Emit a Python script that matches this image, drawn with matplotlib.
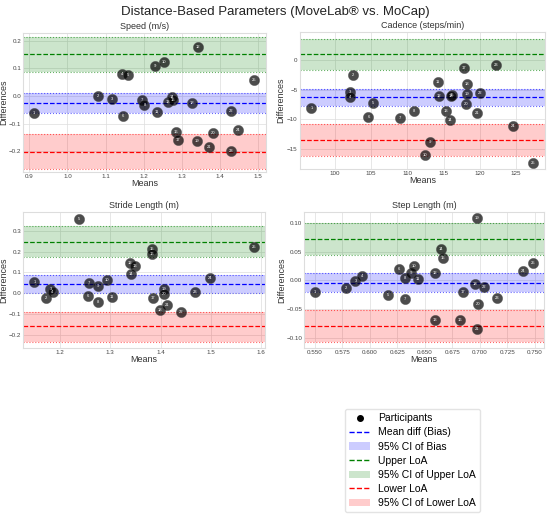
import matplotlib
matplotlib.use('Agg')
import matplotlib.pyplot as plt
from matplotlib.lines import Line2D
from matplotlib.patches import Patch

plt.rcParams['font.family'] = ['Liberation Sans', 'DejaVu Sans']

# ---- data (means, differences) ----
speed_means = [0.913, 1.080, 1.117, 1.143, 1.159, 1.146, 1.195, 1.202, 1.229, 1.253,
               1.234, 1.343, 1.264, 1.273, 1.277, 1.284, 1.291, 1.327, 1.339, 1.381,
               1.372, 1.428, 1.430, 1.448, 1.490]
speed_diffs = [-0.062, 0.001, -0.011, 0.079, 0.075, -0.073, -0.014, -0.034, 0.110, 0.123,
               -0.056, 0.176, -0.021, -0.002, -0.016, -0.128, -0.159, -0.024, -0.163, -0.133,
               -0.185, -0.053, -0.197, -0.123, 0.059]
speed_stats = dict(bias=-0.024, bias_ci=(-0.062, 0.012), upper=0.151, upper_ci=(0.087, 0.213),
                   lower=-0.201, lower_ci=(-0.264, -0.136))

cad_means = [96.78, 102.49, 102.12, 102.12, 105.34, 104.65, 109.02, 110.87, 113.12, 112.43,
             114.27, 114.32, 115.33, 115.93, 116.16, 116.0, 117.82, 118.28, 118.23, 118.05,
             119.57, 120.03, 122.19, 124.59, 127.35]
cad_diffs = [-8.10, -2.49, -5.32, -6.17, -7.25, -9.68, -9.85, -8.61, -13.93, -16.14,
             -3.57, -5.95, -8.55, -10.14, -5.83, -5.95, -1.25, -3.96, -5.61, -7.36,
             -8.89, -5.44, -0.79, -11.10, -17.44]
cad_stats = dict(bias=-6.23, bias_ci=(-7.81, -4.76), upper=1.08, upper_ci=(-1.64, 3.68),
                 lower=-13.53, lower_ci=(-16.2, -10.87))

stride_means = [1.149, 1.172, 1.181, 1.185, 1.238, 1.256, 1.258, 1.275, 1.276, 1.293,
                1.303, 1.339, 1.350, 1.342, 1.382, 1.382, 1.384, 1.399, 1.406, 1.407,
                1.413, 1.441, 1.468, 1.498, 1.586]
stride_diffs = [0.056, -0.021, 0.021, 0.008, 0.358, -0.013, 0.048, -0.043, 0.037, 0.064,
                -0.016, 0.143, 0.131, 0.092, 0.213, 0.186, -0.021, -0.080, 0.019, -0.005,
                -0.057, -0.091, 0.008, 0.075, 0.220]
stride_stats = dict(bias=0.043, bias_ci=(0.0, 0.0876), upper=0.247, upper_ci=(0.172, 0.322),
                    lower=-0.159, lower_ci=(-0.234, -0.0876))

step_means = [0.5503, 0.5782, 0.5870, 0.5927, 0.6170, 0.6264, 0.6321, 0.6321, 0.6373, 0.6400,
              0.6439, 0.6594, 0.6594, 0.6645, 0.6667, 0.6824, 0.6848, 0.6960, 0.6979, 0.6985,
              0.6979, 0.7039, 0.7158, 0.7391, 0.7482]
step_diffs = [-0.0198, -0.0134, -0.0012, 0.0070, -0.0256, 0.0192, -0.0320, 0.0047, 0.0122, 0.0256,
              0.0029, 0.0128, -0.0686, 0.0547, 0.0395, -0.0686, -0.0203, -0.0058, 0.1087, -0.0413,
              -0.0843, -0.0110, -0.0314, 0.0169, 0.0308]
step_stats = dict(bias=-0.0041, bias_ci=(-0.0203, 0.0122), upper=0.0721, upper_ci=(0.0442, 0.1),
                  lower=-0.0797, lower_ci=(-0.1076, -0.0523))

panels = [
    ('Speed (m/s)', speed_means, speed_diffs, speed_stats, [0.042, 0.670, 0.442, 0.267], -0.062,
     (0.884, 1.521), (-0.275, 0.228), [0.9, 1.0, 1.1, 1.2, 1.3, 1.4, 1.5], [-0.2, -0.1, 0.0, 0.1, 0.2]),
    ('Cadence (steps/min)', cad_means, cad_diffs, cad_stats, [0.545, 0.676, 0.446, 0.263], -0.061,
     (95.17, 129.0), (-18.46, 4.87), [100, 105, 110, 115, 120, 125], [-15, -10, -5, 0]),
    ('Stride Length (m)', stride_means, stride_diffs, stride_stats, [0.042, 0.333, 0.440, 0.261], -0.062,
     (1.1265, 1.608), (-0.263, 0.390), [1.2, 1.3, 1.4, 1.5, 1.6], [-0.2, -0.1, 0.0, 0.1, 0.2, 0.3]),
    ('Step Length (m)', step_means, step_diffs, step_stats, [0.553, 0.333, 0.436, 0.261], -0.075,
     (0.5403, 0.7585), (-0.118, 0.119),
     [0.550, 0.575, 0.600, 0.625, 0.650, 0.675, 0.700, 0.725, 0.750], [-0.10, -0.05, 0.00, 0.05, 0.10]),
]

fig = plt.figure(figsize=(5.5, 5.22), dpi=100)
fig.suptitle('Distance-Based Parameters (MoveLab® vs. MoCap)', fontsize=9.5, y=0.988, color='#222222')

for title, means, diffs, st, pos, ylab_x, xlim, ylim, xticks, yticks in panels:
    ax = fig.add_axes(pos)
    ax.set_facecolor('white')
    for (lo, hi), line, col in [(st['bias_ci'], st['bias'], 'blue'),
                                (st['upper_ci'], st['upper'], 'green'),
                                (st['lower_ci'], st['lower'], 'red')]:
        ax.axhspan(lo, hi, color=col, alpha=0.2, lw=0)
        ax.axhline(lo, color=col, ls=':', lw=0.8, alpha=0.6)
        ax.axhline(hi, color=col, ls=':', lw=0.8, alpha=0.6)
        ax.axhline(line, color=col, ls='--', lw=0.9)
    ax.scatter(means, diffs, s=55, color='black', alpha=0.7, edgecolors='#555555', lw=0.4, zorder=3)
    for i, (m, d) in enumerate(zip(means, diffs)):
        ax.text(m, d, str(i + 1), color='white', fontsize=3, ha='center', va='center', zorder=4)
    ax.set_xlim(*xlim)
    ax.set_ylim(*ylim)
    ax.set_xticks(xticks)
    ax.set_yticks(yticks)
    ax.tick_params(labelsize=4.5, length=0, pad=1.5, colors='#444444')
    ax.grid(True, color='#dddddd', lw=0.5)
    ax.set_axisbelow(True)
    for s in ax.spines.values():
        s.set_color('#dddddd')
        s.set_linewidth(0.8)
    ax.set_title(title, fontsize=6.5, pad=3, color='#333333')
    ax.set_xlabel('Means', fontsize=6.5, labelpad=0, color='#333333')
    ax.set_ylabel('Differences', fontsize=6.5, color='#333333')
    ax.yaxis.set_label_coords(ylab_x, 0.5)

handles = [
    Line2D([], [], marker='o', color='black', ls='none', markersize=4),
    Line2D([], [], color='blue', ls='--', lw=1),
    Patch(facecolor='blue', alpha=0.2),
    Line2D([], [], color='green', ls='--', lw=1),
    Patch(facecolor='green', alpha=0.2),
    Line2D([], [], color='red', ls='--', lw=1),
    Patch(facecolor='red', alpha=0.2),
]
labels = ['Participants', 'Mean diff (Bias)', '95% CI of Bias', 'Upper LoA',
          '95% CI of Upper LoA', 'Lower LoA', '95% CI of Lower LoA']
fig.legend(handles, labels, loc='upper left', bbox_to_anchor=(345 / 550, 1 - 409 / 522),
           fontsize=7.5, frameon=True, edgecolor='#dddddd', labelspacing=0.4,
           handlelength=2.0, borderaxespad=0, fancybox=True)

fig.savefig('out.png', dpi=100)
